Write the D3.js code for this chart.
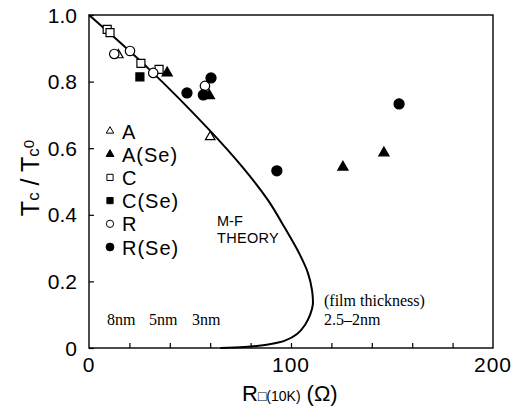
<!DOCTYPE html>
<html><head><meta charset="utf-8">
<script src="https://cdnjs.cloudflare.com/ajax/libs/d3/7.8.5/d3.min.js"></script>
<style>body{margin:0;background:#fff}svg{display:block}</style>
</head><body><svg id="c" width="513" height="410"></svg>
<script>
// Data
const categories = ["A", "A(Se)", "C", "C(Se)", "R", "R(Se)"];
const seriesA    = [[14.5, 0.88], [60, 0.634]];
const seriesASe  = [[38.7, 0.826], [59.6, 0.758], [125.7, 0.543], [146, 0.586]];
const seriesC    = [[9.0, 0.957], [10.4, 0.947], [25.7, 0.855], [34.7, 0.837]];
const seriesCSe  = [[25.2, 0.814]];
const seriesR    = [[12.5, 0.883], [20.3, 0.892], [31.8, 0.826], [57.4, 0.787]];
const seriesRSe  = [[48.5, 0.766], [60.4, 0.811], [56.6, 0.760], [93, 0.532], [153.5, 0.733]];
const theoryR = [0, 30, 60, 76, 88.6, 97, 104.5, 108.4, 110.4, 110.8, 109.5, 107, 103, 97, 88, 77, 65];
const theoryT = [1.0, 0.836, 0.652, 0.543, 0.444, 0.36, 0.279, 0.225, 0.174, 0.13, 0.1, 0.07, 0.042, 0.022, 0.01, 0.003, 0];
const xTicks = [0, 100, 200];
const xMinorTicks = [20, 40, 60, 80, 100, 120, 140, 160, 180];
const yTicks = [0, 0.2, 0.4, 0.6, 0.8, 1.0];
const thicknessLabels = ["8nm", "5nm", "3nm"];

const svg = d3.select("#c");
const L = 89, R = 493, T = 15, B = 348;
const x = d3.scaleLinear().domain([0, 200]).range([L, R]);
const y = d3.scaleLinear().domain([0, 1]).range([B, T]);

// frame
svg.append("rect").attr("x", L).attr("y", T).attr("width", R - L).attr("height", B - T)
  .attr("fill", "none").attr("stroke", "#000").attr("stroke-width", 1.4);

// axes
const xAx = svg.append("g").attr("transform", `translate(0,${B})`)
  .call(d3.axisBottom(x).tickValues(xMinorTicks).tickSize(-5).tickFormat(""));
const yAx = svg.append("g").attr("transform", `translate(${L},0)`)
  .call(d3.axisLeft(y).tickValues(yTicks).tickSize(-5).tickFormat(""));
[xAx, yAx].forEach(g => { g.select(".domain").remove(); g.selectAll("line").attr("stroke", "#000").attr("stroke-width", 1.2); });

const sans = "Liberation Sans, Arial, sans-serif";
svg.append("g").selectAll("text").data(xTicks).join("text")
  .attr("x", d => x(d)).attr("y", 372).attr("text-anchor", "middle")
  .attr("font-family", sans).attr("font-size", 21).attr("letter-spacing", 1)
  .text(d => d);
svg.append("g").selectAll("text").data(yTicks).join("text")
  .attr("x", 77).attr("y", d => y(d) + 7.5).attr("text-anchor", "end")
  .attr("font-family", sans).attr("font-size", 21)
  .text(d => d === 0 ? "0" : d.toFixed(1));

// axis titles
const yt = svg.append("text").attr("transform", "translate(39,178) rotate(-90)")
  .attr("text-anchor", "middle").attr("font-family", sans).attr("font-size", 25);
yt.append("tspan").text("T");
yt.append("tspan").attr("font-size", 17).text("c");
yt.append("tspan").text(" / T");
yt.append("tspan").attr("font-size", 17).text("c");
yt.append("tspan").attr("font-size", 15).attr("dy", -5).text("0");

const xt = svg.append("text").attr("x", 242).attr("y", 401)
  .attr("font-family", sans).attr("font-size", 22);
xt.append("tspan").text("R");
xt.append("tspan").attr("font-size", 14).text("\u25A1(10K)");
xt.append("tspan").attr("dx", 6).text("(\u03A9)");

// theory curve
const line = d3.line().x(d => x(d[0])).y(d => y(d[1])).curve(d3.curveCatmullRom.alpha(0.5));
svg.append("path").datum(theoryR.map((r, i) => [r, theoryT[i]]))
  .attr("d", line).attr("fill", "none").attr("stroke", "#000").attr("stroke-width", 2);

// markers
const styles = {
  "A":     {type: d3.symbolTriangle, size: 40, fill: "#fff", data: seriesA},
  "A(Se)": {type: d3.symbolTriangle, size: 45, fill: "#000", data: seriesASe},
  "C":     {type: d3.symbolSquare,   size: 64, fill: "#fff", data: seriesC},
  "C(Se)": {type: d3.symbolSquare,   size: 64, fill: "#000", data: seriesCSe},
  "R":     {type: d3.symbolCircle,   size: 70, fill: "#fff", data: seriesR},
  "R(Se)": {type: d3.symbolCircle,   size: 80, fill: "#000", data: seriesRSe}
};
categories.forEach(c => {
  const s = styles[c];
  svg.append("g").selectAll("path").data(s.data).join("path")
    .attr("transform", d => `translate(${x(d[0])},${y(d[1])})`)
    .attr("d", d3.symbol().type(s.type).size(s.size))
    .attr("fill", s.fill).attr("stroke", "#000").attr("stroke-width", 1.2);
});

// legend
const leg = svg.append("g");
categories.forEach((c, i) => {
  const s = styles[c];
  const cy = 131 + i * 23.2;
  leg.append("path").attr("transform", `translate(110,${cy})`)
    .attr("d", d3.symbol().type(s.type).size(s.size * 0.6))
    .attr("fill", s.fill).attr("stroke", "#000").attr("stroke-width", 1);
  leg.append("text").attr("x", 122).attr("y", cy + 7.5)
    .attr("font-family", sans).attr("font-size", 20).attr("letter-spacing", 1)
    .text(c);
});

// annotations
svg.append("text").attr("x", 217).attr("y", 226).attr("font-family", sans).attr("font-size", 14.5).text("M-F");
svg.append("text").attr("x", 217).attr("y", 243).attr("font-family", sans).attr("font-size", 14.5).attr("letter-spacing", 0.3).text("THEORY");
const serif = "Liberation Serif, Times New Roman, serif";
svg.append("g").selectAll("text").data(thicknessLabels).join("text")
  .attr("x", (d, i) => [107, 149, 192][i]).attr("y", 325)
  .attr("font-family", serif).attr("font-size", 16).text(d => d);
svg.append("text").attr("x", 324).attr("y", 306).attr("font-family", serif).attr("font-size", 16).text("(film thickness)");
svg.append("text").attr("x", 324).attr("y", 325).attr("font-family", serif).attr("font-size", 16).text("2.5\u20132nm");
</script></body></html>
